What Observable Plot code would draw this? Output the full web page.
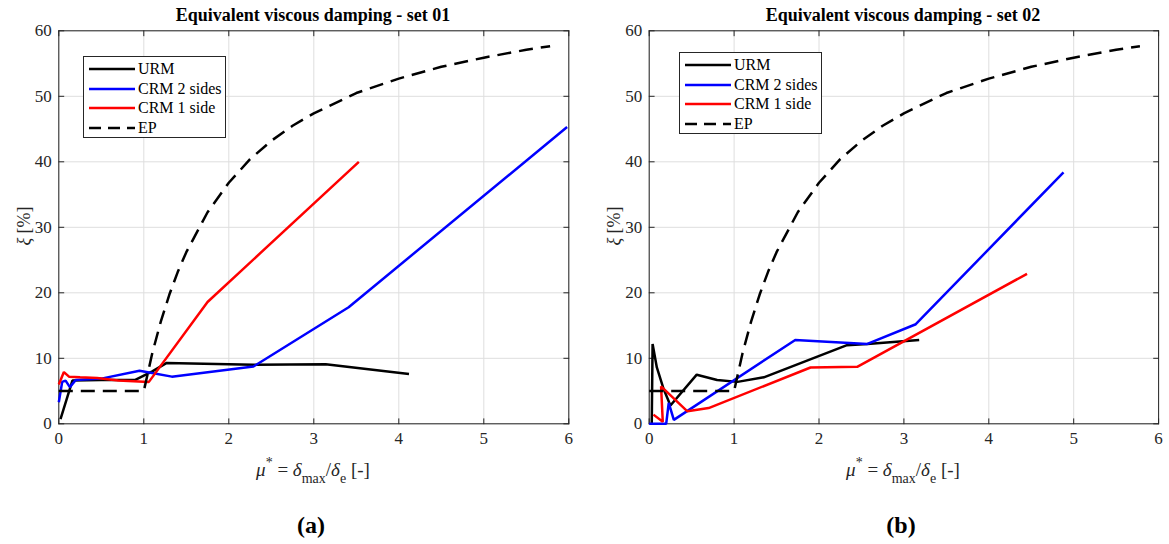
<!DOCTYPE html>
<html><head><meta charset="utf-8">
<script src="https://cdn.jsdelivr.net/npm/d3@7"></script>
<script src="https://cdn.jsdelivr.net/npm/@observablehq/plot@0.6"></script>
<style>
body{margin:0;background:#fff;font-family:"Liberation Serif","Times New Roman",serif;}
#wrap{position:relative;width:1169px;height:544px;overflow:hidden;background:#fff;font-family:"Liberation Serif",serif}
.panel{position:absolute;top:0}
.panel svg text{font-family:"Liberation Serif",serif !important}
.title{position:absolute;font-weight:bold;font-size:18px;line-height:20px;transform:translateX(-50%);white-space:nowrap;color:#000}
.xlab{position:absolute;font-size:19px;line-height:22px;transform:translateX(-50%);white-space:nowrap;color:#262626}
.xlab i{font-style:italic}
.xlab sub{font-size:14px;position:relative;top:7px;vertical-align:baseline}
.xlab sup{font-size:14px;position:relative;top:-9px;vertical-align:baseline}
.ylab{position:absolute;font-size:18px;line-height:20px;white-space:nowrap;color:#262626;transform:translate(-50%,-50%) rotate(-90deg)}
.ylab i{font-style:italic}
.tag{position:absolute;font-weight:bold;font-size:24px;line-height:26px;transform:translateX(-50%);color:#000}
.legend{position:absolute;border:1px solid #262626;background:#fff;box-sizing:border-box}
.legend .row{position:absolute;left:0;height:20px;font-size:16px;line-height:20px;white-space:nowrap;color:#000}
.legend svg{position:absolute;left:4px;top:0}
.legend span{position:absolute;left:54px;top:0}
</style>
</head><body>
<div id="wrap"></div>
<script>
// ---------- data ----------
const xTicks = [0, 1, 2, 3, 4, 5, 6];
const yTicks = [0, 10, 20, 30, 40, 50, 60];
const seriesNames = ["URM", "CRM 2 sides", "CRM 1 side", "EP"];
const seriesColors = ["#000000", "#0000ff", "#ff0000", "#000000"];

// EP (elasto-plastic) reference curve, same in both panels
const epX = [0, 0.5, 1, 1.1, 1.2, 1.3, 1.4, 1.5, 1.75, 2, 2.25, 2.5, 2.75, 3, 3.5, 4, 4.5, 5, 5.5, 5.78];
const epY = [5, 5, 5, 10.8, 15.6, 19.7, 23.2, 26.2, 32.3, 36.8, 40.4, 43.2, 45.5, 47.4, 50.5, 52.7, 54.5, 55.9, 57.1, 57.65];

// set 01
const urm1X = [0.02, 0.16, 0.5, 0.9, 1.1, 1.27, 2.29, 3.14, 4.12];
const urm1Y = [0.7, 6.6, 6.7, 6.7, 8.0, 9.3, 9.0, 9.1, 7.6];
const crm2s1X = [0, 0.04, 0.08, 0.13, 0.2, 0.5, 0.95, 1.08, 1.33, 2.29, 3.41, 5.98];
const crm2s1Y = [3.3, 6.4, 6.6, 5.6, 6.7, 6.9, 8.1, 7.8, 7.2, 8.75, 17.8, 45.3];
const crm1s1X = [0, 0.06, 0.12, 0.25, 0.45, 0.7, 1.06, 1.75, 3.53];
const crm1s1Y = [6.0, 7.9, 7.2, 7.1, 7.0, 6.6, 6.4, 18.6, 40.0];

// set 02
const urm2X = [0.03, 0.04, 0.09, 0.17, 0.25, 0.56, 0.8, 1.04, 1.35, 2.33, 2.57, 3.18];
const urm2Y = [0, 12.2, 8.6, 5.3, 2.8, 7.5, 6.7, 6.4, 7.1, 12.0, 12.2, 12.8];
const crm2s2X = [0, 0.2, 0.23, 0.29, 1.72, 2.57, 3.14, 4.88];
const crm2s2Y = [0, 0, 3.2, 0.6, 12.8, 12.2, 15.2, 38.4];
const crm1s2X = [0.05, 0.16, 0.14, 0.45, 0.7, 1.9, 2.45, 4.45];
const crm1s2Y = [1.4, 0.3, 5.7, 1.9, 2.4, 8.6, 8.7, 22.9];

const titles = ["Equivalent viscous damping - set 01", "Equivalent viscous damping - set 02"];
const tags = ["(a)", "(b)"];

// ---------- helpers ----------
const FONT = "Liberation Serif, Times New Roman, serif";
const zip = (xs, ys) => xs.map((x, i) => ({x, y: ys[i]}));
const tickShape = {draw(ctx, l) { ctx.moveTo(0, 0); ctx.lineTo(0, -l); }};

function panel(lines, W, mL, mR) {
  const H = 490, mT = 30.3, mB = 66.7;
  const marks = [
    Plot.gridX(xTicks, {stroke: "#dedede", strokeOpacity: 1, strokeWidth: 1}),
    Plot.gridY(yTicks, {stroke: "#dedede", strokeOpacity: 1, strokeWidth: 1}),
    Plot.axisX(xTicks, {tickSize: 0, tickPadding: 8, label: null, fill: "#262626", fontSize: 17, fontFamily: FONT}),
    Plot.axisY(yTicks, {tickSize: 0, tickPadding: 7, label: null, fill: "#262626", fontSize: 17, fontFamily: FONT}),
    Plot.frame({stroke: "#262626", strokeWidth: 1}),
    Plot.vector(xTicks, {x: d => d, y: 0, length: 5, rotate: 0, anchor: "start", shape: tickShape, stroke: "#262626", strokeWidth: 1}),
    Plot.vector(xTicks, {x: d => d, y: 60, length: 5, rotate: 180, anchor: "start", shape: tickShape, stroke: "#262626", strokeWidth: 1}),
    Plot.vector(yTicks, {x: 0, y: d => d, length: 5, rotate: 90, anchor: "start", shape: tickShape, stroke: "#262626", strokeWidth: 1}),
    Plot.vector(yTicks, {x: 6, y: d => d, length: 5, rotate: -90, anchor: "start", shape: tickShape, stroke: "#262626", strokeWidth: 1})
  ];
  lines.forEach((data, i) => {
    marks.push(Plot.line(data, {x: "x", y: "y", stroke: seriesColors[i], strokeWidth: 2.5,
      strokeDasharray: i === 3 ? "14,8" : null, strokeLinejoin: "miter", strokeLinecap: "butt"}));
  });
  return Plot.plot({
    width: W, height: H, marginLeft: mL, marginRight: mR, marginTop: mT, marginBottom: mB,
    x: {domain: [0, 6], axis: null},
    y: {domain: [0, 60], axis: null},
    style: {fontFamily: FONT, fontSize: "17px", background: "transparent", overflow: "visible"},
    marks
  });
}

const wrap = document.getElementById("wrap");
const panels = [
  {left: 0, W: 584, mL: 58.3, mR: 15.7, cx: 313, legL: 83, legT: 56,
   lines: [zip(urm1X, urm1Y), zip(crm2s1X, crm2s1Y), zip(crm1s1X, crm1s1Y), zip(epX, epY)]},
  {left: 590, W: 579, mL: 58.7, mR: 10.9, cx: 903, legL: 679, legT: 52,
   lines: [zip(urm2X, urm2Y), zip(crm2s2X, crm2s2Y), zip(crm1s2X, crm1s2Y), zip(epX, epY)]}
];

panels.forEach((p, k) => {
  const div = document.createElement("div");
  div.className = "panel";
  div.style.left = p.left + "px";
  div.appendChild(panel(p.lines, p.W, p.mL, p.mR));
  wrap.appendChild(div);

  const t = document.createElement("div");
  t.className = "title"; t.style.left = p.cx + "px"; t.style.top = "5px";
  t.textContent = titles[k];
  wrap.appendChild(t);

  const xl = document.createElement("div");
  xl.className = "xlab"; xl.style.left = p.cx + "px"; xl.style.top = "459px";
  xl.innerHTML = "<i>μ</i><sup>*</sup> = <i>δ</i><sub>max</sub>/<i>δ</i><sub>e</sub> [-]";
  wrap.appendChild(xl);

  const yl = document.createElement("div");
  yl.className = "ylab"; yl.style.left = (p.left + 24) + "px"; yl.style.top = "226px";
  yl.innerHTML = "<i>ξ</i> [%]";
  wrap.appendChild(yl);

  const tg = document.createElement("div");
  tg.className = "tag"; tg.style.left = (p.cx - 2) + "px"; tg.style.top = "512px";
  tg.textContent = tags[k];
  wrap.appendChild(tg);

  const lg = document.createElement("div");
  lg.className = "legend";
  lg.style.left = p.legL + "px"; lg.style.top = p.legT + "px";
  lg.style.width = "143px"; lg.style.height = "82px";
  seriesNames.forEach((name, i) => {
    const row = document.createElement("div");
    row.className = "row";
    row.style.top = (2 + i * 19.5) + "px";
    row.style.width = "140px";
    const dash = i === 3 ? 'stroke-dasharray="12,7"' : "";
    row.innerHTML = `<svg width="48" height="20"><line x1="1" y1="10" x2="47" y2="10" stroke="${seriesColors[i]}" stroke-width="2.5" ${dash}/></svg><span>${name}</span>`;
    lg.appendChild(row);
  });
  wrap.appendChild(lg);
});
</script>
</body></html>
